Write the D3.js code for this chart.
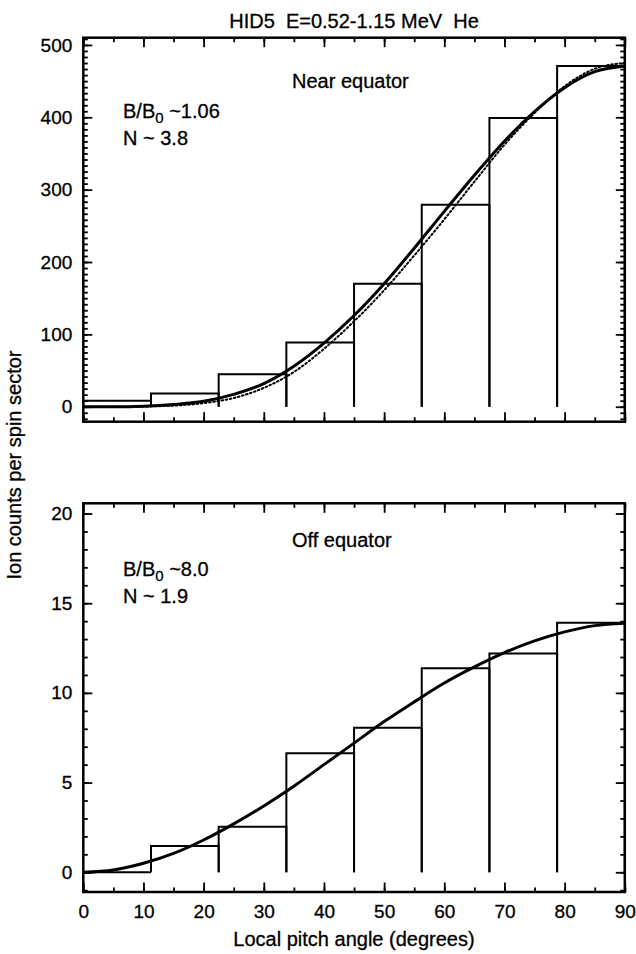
<!DOCTYPE html>
<html><head><meta charset="utf-8">
<script src="https://cdn.jsdelivr.net/npm/d3@7/dist/d3.min.js"></script>
<style>
body{margin:0;background:#fff}
text{font-family:"Liberation Sans",Arial,Helvetica,sans-serif;fill:#000;stroke:#000;stroke-width:0.3px;white-space:pre}
</style>
</head><body>
<svg id="chart" width="636" height="954"></svg>
<script>
// ---- data ----
const binEdges = [0, 11.25, 22.5, 33.75, 45, 56.25, 67.5, 78.75, 90];
const nearCounts = [8.3, 18.4, 45, 88.8, 170, 279, 399, 471];
const offCounts = [0, 1.47, 2.54, 6.63, 8.06, 11.37, 12.2, 13.91];
const curveAngles = [0, 5, 10, 15, 20, 25, 30, 35, 40, 45, 50, 55, 60, 65, 70, 75, 80, 85, 90];
const nearFitSolid = [0, 0, 0.7, 3, 7.5, 17, 32, 56, 88, 126, 170, 219, 270, 320, 367, 408, 441, 463, 471];
const nearFitDotted = [0, 0, 0.3, 1.5, 5, 12, 26, 48, 80, 118, 161, 209, 259, 311, 362, 406, 443, 467, 475];
const offFit = [0, 0.13, 0.5, 1.05, 1.8, 2.7, 3.7, 4.8, 6.0, 7.2, 8.4, 9.5, 10.55, 11.45, 12.25, 12.9, 13.4, 13.75, 13.88];
const xTickValues = [0, 10, 20, 30, 40, 50, 60, 70, 80, 90];
const nearYTicks = [0, 100, 200, 300, 400, 500];
const offYTicks = [0, 5, 10, 15, 20];
const titleText = "HID5  E=0.52-1.15 MeV  He";
const xLabel = "Local pitch angle (degrees)";
const yLabel = "Ion counts per spin sector";

const svg = d3.select("#chart");
const L = 83.3, R = 624.8;
const x = d3.scaleLinear().domain([0, 90]).range([L, R]);

const panels = [
  {top: 37.7, bottom: 421.7, domain: [-20.7, 510], counts: nearCounts, ticks: nearYTicks,
   minorStep: 100/12, fits: [{v: nearFitSolid, dotted: false}, {v: nearFitDotted, dotted: true}],
   xlabels: false, name: "Near equator", nameY: 88, bb: "1.06", n: "3.8", bbY: 118},
  {top: 503.3, bottom: 892, domain: [-1.1, 20.57], counts: offCounts, ticks: offYTicks,
   minorStep: 1, fits: [{v: offFit, dotted: false}],
   xlabels: true, name: "Off equator", nameY: 547, bb: "8.0", n: "1.9", bbY: 576}
];

svg.append("text").attr("x", 354).attr("y", 28).attr("text-anchor", "middle")
  .style("font-size", "20px").text(titleText);

panels.forEach((p, pi) => {
  const y = d3.scaleLinear().domain(p.domain).range([p.bottom, p.top]);
  const g = svg.append("g");
  const clipId = "clip" + pi;
  svg.append("clipPath").attr("id", clipId).append("rect")
    .attr("x", L).attr("y", p.top).attr("width", R - L).attr("height", p.bottom - p.top);

  const xMinor = d3.range(0, 90.01, 5);
  const yMinor = d3.range(0, p.domain[1] + 1e-6, p.minorStep).concat(d3.range(-p.minorStep, p.domain[0], -p.minorStep));
  const tickAxes = [
    [d3.axisBottom(x).tickValues(xMinor).tickSizeInner(-4.5), `translate(0,${p.bottom})`],
    [d3.axisTop(x).tickValues(xMinor).tickSizeInner(-4.5), `translate(0,${p.top})`],
    [d3.axisBottom(x).tickValues(xTickValues).tickSizeInner(-9.5), `translate(0,${p.bottom})`],
    [d3.axisTop(x).tickValues(xTickValues).tickSizeInner(-9.5), `translate(0,${p.top})`],
    [d3.axisLeft(y).tickValues(yMinor).tickSizeInner(-4.5), `translate(${L},0)`],
    [d3.axisRight(y).tickValues(yMinor).tickSizeInner(-4.5), `translate(${R},0)`],
    [d3.axisLeft(y).tickValues(p.ticks).tickSizeInner(-9), `translate(${L},0)`],
    [d3.axisRight(y).tickValues(p.ticks).tickSizeInner(-9), `translate(${R},0)`]
  ];
  tickAxes.forEach(([ax, tr]) => {
    const a = g.append("g").attr("transform", tr).call(ax.tickSizeOuter(0).tickFormat(""));
    a.select(".domain").remove();
    a.selectAll("line").attr("stroke", "#000").attr("stroke-width", 1.8);
  });

  const yl = g.append("g").attr("transform", `translate(${L},0)`)
    .call(d3.axisLeft(y).tickValues(p.ticks).tickSize(0).tickPadding(11).tickFormat(d3.format("d")));
  yl.select(".domain").remove();
  yl.selectAll("text").style("font-size", "19px").attr("font-family", null);

  if (p.xlabels) {
    const xl = g.append("g").attr("transform", `translate(0,${p.bottom})`)
      .call(d3.axisBottom(x).tickValues(xTickValues).tickSize(0).tickPadding(13).tickFormat(d3.format("d")));
    xl.select(".domain").remove();
    xl.selectAll("text").style("font-size", "19px").attr("font-family", null);
  }

  const bars = g.append("g").attr("clip-path", `url(#${clipId})`);
  p.counts.forEach((c, i) => {
    const x0 = x(binEdges[i]), x1 = x(binEdges[i + 1]);
    bars.append("path")
      .attr("d", `M${x0},${y(0)}V${y(c)}H${x1}V${y(0)}`)
      .attr("fill", "none").attr("stroke", "#000").attr("stroke-width", 2);
  });

  p.fits.forEach(f => {
    const line = d3.line().curve(d3.curveMonotoneX)
      .x((d, i) => x(curveAngles[i])).y(d => y(d));
    bars.append("path").attr("d", line(f.v)).attr("fill", "none")
      .attr("stroke", "#000")
      .attr("stroke-width", f.dotted ? 2 : 3)
      .attr("stroke-dasharray", f.dotted ? "1.6,2.6" : null)
      .attr("stroke-linecap", f.dotted ? "round" : "butt");
  });

  g.append("rect").attr("x", L).attr("y", p.top).attr("width", R - L).attr("height", p.bottom - p.top)
    .attr("fill", "none").attr("stroke", "#000").attr("stroke-width", 2.5);

  g.append("text").attr("x", 292).attr("y", p.nameY).style("font-size", "20px").text(p.name);
  const t = g.append("text").attr("x", 123).attr("y", p.bbY).style("font-size", "20px");
  t.append("tspan").text("B/B");
  t.append("tspan").attr("dy", 5).style("font-size", "15px").text("0");
  t.append("tspan").attr("dy", -5).text(" ~" + p.bb);
  g.append("text").attr("x", 123).attr("y", p.bbY + 27).style("font-size", "20px").text("N ~ " + p.n);
});

svg.append("text").attr("x", 354).attr("y", 946).attr("text-anchor", "middle")
  .style("font-size", "20px").text(xLabel);
svg.append("text").attr("transform", "translate(21,465) rotate(-90)").attr("text-anchor", "middle")
  .style("font-size", "20px").text(yLabel);
</script>
</body></html>
